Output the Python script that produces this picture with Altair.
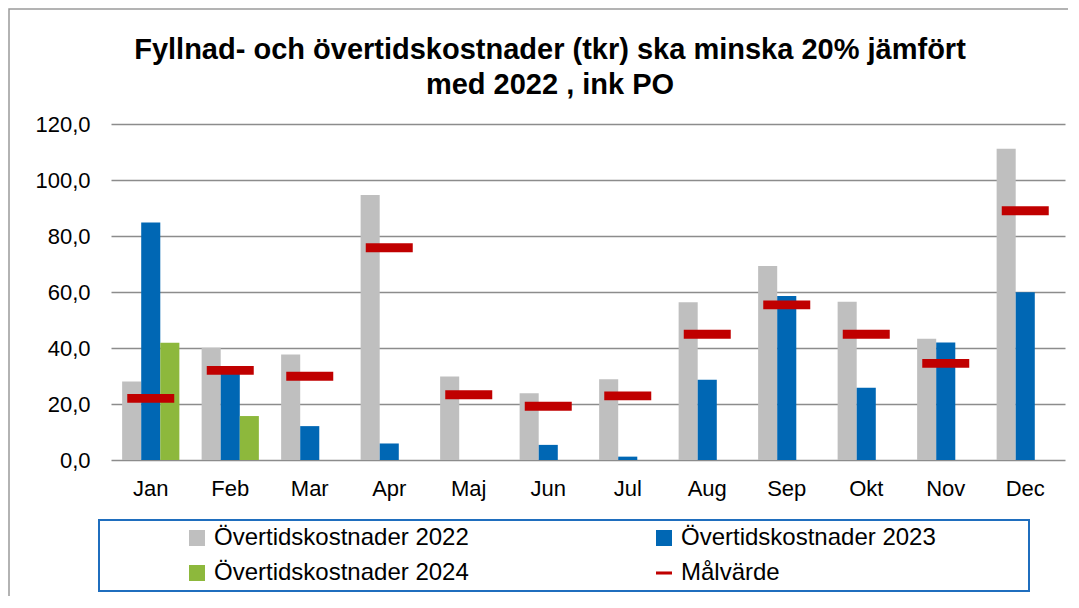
import altair as alt
import pandas as pd

months = ["Jan", "Feb", "Mar", "Apr", "Maj", "Jun", "Jul", "Aug", "Sep", "Okt", "Nov", "Dec"]
series_names = ["Övertidskostnader 2022", "Övertidskostnader 2023",
                "Övertidskostnader 2024", "Målvärde"]
v2022 = [28.0, 40.1, 37.7, 94.6, 29.8, 23.8, 28.8, 56.3, 69.3, 56.5, 43.3, 111.2]
v2023 = [84.8, 33.0, 12.1, 5.9, None, 5.4, 1.2, 28.7, 58.6, 25.8, 42.0, 59.9]
v2024 = [41.9, 15.7, None, None, None, None, None, None, None, None, None, None]
target = [22.0, 32.0, 29.9, 75.8, 23.3, 19.2, 22.9, 44.9, 55.4, 44.9, 34.5, 89.0]
y_ticks = [0, 20, 40, 60, 80, 100, 120]
colors = ["#BFBFBF", "#0067B4", "#8DB83C", "#C00000"]
title_lines = ["Fyllnad- och övertidskostnader (tkr) ska minska 20% jämfört",
               "med 2022 , ink PO"]

rows = []
for s, vals in zip(series_names[:3], [v2022, v2023, v2024]):
    for m, v in zip(months, vals):
        if v is not None:
            rows.append({"month": m, "series": s, "value": v})
bars_df = pd.DataFrame(rows)
target_df = pd.DataFrame({"month": months, "series": series_names[3], "value": target})

FONT = "Liberation Sans"
nb = "\u00a0"
zw = "\u200b"
rect_path = "M-1,-0.19L1,-0.19L1,0.19L-1,0.19Z"

legend = alt.Legend(
    orient="none", legendX=-12, legendY=396, columns=2, direction="horizontal",
    title=nb + zw, titleOrient="left", titlePadding=80, titleFontSize=24,
    columnPadding=96, rowPadding=11, labelOffset=5, labelLimit=1000,
    labelFont=FONT, labelFontSize=24, labelColor="#000000",
    labelExpr="datum.label + '" + nb * 13 + zw + "'",
    padding=6, strokeColor="#1F6EBE", symbolSize=256, symbolOpacity=1,
)

x_enc = alt.X(
    "month:N", sort=months, title=None,
    scale=alt.Scale(domain=months, paddingInner=0.28, paddingOuter=0.14),
    axis=alt.Axis(labelAngle=0, domain=False, ticks=False, labelPadding=18,
                  labelFontSize=22, labelFont=FONT, labelColor="#000000", grid=False),
)
y_enc = alt.Y(
    "value:Q", stack=None, title=None,
    scale=alt.Scale(domain=[0, 120], nice=False),
    axis=alt.Axis(values=y_ticks,
                  labelExpr="replace(format(datum.value, '.1f'), '.', ',')",
                  domain=False, ticks=False, labelPadding=21,
                  gridColor="#8C8C8C", gridWidth=1.6,
                  labelFontSize=22, labelFont=FONT, labelColor="#000000"),
)
color_enc = alt.Color("series:N", scale=alt.Scale(domain=series_names, range=colors),
                      legend=legend)
shape_enc = alt.Shape("series:N",
                      scale=alt.Scale(domain=series_names,
                                      range=["square", "square", "square", rect_path]),
                      legend=legend)

frame = alt.Chart(alt.Data(values=[{"f": 1}])).mark_rect(
    filled=False, stroke="#9A9A9A", strokeWidth=1.5
).encode(x=alt.value(-102), y=alt.value(-115), x2=alt.value(3000), y2=alt.value(3000))

bars = alt.Chart(bars_df).mark_bar(opacity=1).encode(
    x=x_enc,
    xOffset=alt.XOffset("series:N", scale=alt.Scale(domain=series_names[:3])),
    y=y_enc,
    color=color_enc,
)

targets = alt.Chart(target_df).mark_point(filled=True, opacity=1, size=2209).encode(
    x=x_enc, y=y_enc, color=color_enc, shape=shape_enc,
)

chart = alt.layer(frame, bars, targets).properties(
    width=954, height=336,
    autosize=alt.AutoSizeParams(type="none"),
    padding={"left": 103, "top": 116, "right": 3, "bottom": 136},
    title=alt.TitleParams(text=title_lines, font=FONT, fontSize=29, fontWeight="bold",
                          color="#000000", anchor="middle", frame="group", dx=-38,
                          offset=-92, lineHeight=35),
).configure_view(strokeWidth=0).configure_legend(strokeWidth=2)

chart.save("out.html", embed_options={"renderer": "svg", "actions": False})
